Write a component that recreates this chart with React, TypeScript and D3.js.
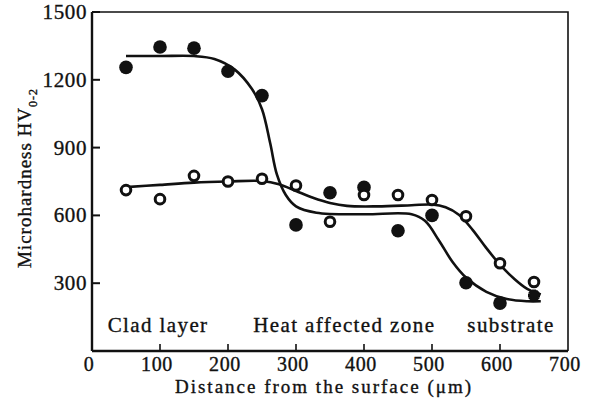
import React, { useEffect, useRef } from 'react';
import * as d3 from 'd3';

// measured points, distance (um) / hardness
const cladDist = [50, 100, 150, 200, 250, 300, 350, 400, 450, 500, 550, 600];
const cladHV = [1255, 1345, 1340, 1238, 1130, 558, 700, 724, 532, 600, 302, 212];

const openDist = [50, 100, 150, 200, 250, 300, 350, 400, 450, 500, 550, 600, 650];
const openHV = [712, 672, 775, 750, 762, 732, 572, 690, 690, 668, 596, 388, 305];

const starPoint = [650, 246];

// fitted curves
const curveADist = [50, 100, 150, 180, 210, 235, 250, 262, 272, 285, 300, 330, 400, 470, 490, 510, 530, 550, 580, 610, 640, 660];
const curveAHV = [1305, 1305, 1305, 1292, 1245, 1160, 1070, 920, 780, 690, 640, 612, 605, 605, 575, 490, 395, 325, 262, 230, 220, 220];

const curveBDist = [50, 100, 150, 200, 250, 275, 300, 325, 350, 375, 420, 470, 500, 520, 540, 560, 580, 600, 620, 640, 660];
const curveBHV = [725, 735, 745, 750, 752, 738, 708, 678, 655, 642, 640, 645, 648, 636, 602, 535, 455, 382, 322, 275, 250];

const xTicks = [0, 100, 200, 300, 400, 500, 600, 700];
const yTicks = [300, 600, 900, 1200, 1500];
const zoneLabels = ['Clad layer', 'Heat affected zone', 'substrate'];
const zoneAt = [23, 237, 552];

const App = () => {
    const ref = useRef<SVGSVGElement>(null);

    useEffect(() => {
        const svg = d3.select(ref.current);
        svg.selectAll('*').remove();

        const x = d3.scaleLinear().domain([0, 700]).range([92, 568]);
        const y = d3.scaleLinear().domain([0, 1500]).range([351, 12]);
        const font = "'Liberation Serif', 'DejaVu Serif', serif";
        const ink = '#111';

        const styleText = (t: any, size = 21, spacing = 1.6) =>
            t.style('font-family', font).style('font-size', size + 'px')
                .style('letter-spacing', spacing + 'px')
                .attr('fill', ink).attr('stroke', ink).attr('stroke-width', 0.35);

        // frame
        svg.append('path')
            .attr('d', `M${x(0)},${y(1500)}H${x(700)}V${y(0)}`)
            .attr('fill', 'none').attr('stroke', ink).attr('stroke-width', 1.6);
        svg.append('line')
            .attr('x1', x(0)).attr('x2', x(0)).attr('y1', y(1500)).attr('y2', y(0))
            .attr('stroke', ink).attr('stroke-width', 2.4);
        svg.append('line')
            .attr('x1', x(0)).attr('x2', x(700)).attr('y1', y(0)).attr('y2', y(0))
            .attr('stroke', ink).attr('stroke-width', 2.4);

        // y ticks (inward)
        svg.selectAll('.ytick').data(yTicks).enter().append('line')
            .attr('x1', x(0)).attr('x2', x(0) + 8)
            .attr('y1', d => y(d)).attr('y2', d => y(d))
            .attr('stroke', ink).attr('stroke-width', 2);
        styleText(svg.selectAll('.ylab').data(yTicks).enter().append('text')
            .attr('x', x(0) - 5).attr('y', d => y(d) + 7)
            .attr('text-anchor', 'end'), 21, 0.6)
            .text((d: number) => d);

        // x ticks (inward)
        svg.selectAll('.xtick').data(xTicks.slice(1, -1)).enter().append('line')
            .attr('x1', d => x(d)).attr('x2', d => x(d))
            .attr('y1', y(0)).attr('y2', y(0) - 7)
            .attr('stroke', ink).attr('stroke-width', 1.6);
        styleText(svg.selectAll('.xlab').data(xTicks).enter().append('text')
            .attr('x', d => x(d) - 3).attr('y', 371)
            .attr('text-anchor', 'middle'), 20, 0.6)
            .text((d: number) => d);

        // axis titles
        styleText(svg.append('text')
            .attr('x', 324).attr('y', 393)
            .attr('text-anchor', 'middle'), 19, 2)
            .text('Distance from the surface (μm)');

        const yt = styleText(svg.append('text')
            .attr('transform', 'translate(31,178) rotate(-90)')
            .attr('text-anchor', 'middle'), 19, 1.0);
        yt.append('tspan').text('Microhardness HV');
        yt.append('tspan').attr('dy', 6).style('font-size', '12px').text('0-2');

        // zone labels
        styleText(svg.selectAll('.zone').data(zoneLabels).enter().append('text')
            .attr('x', (d, i) => x(zoneAt[i]))
            .attr('y', 332)
            .attr('text-anchor', 'start'), 21, 1.4)
            .text((d: string) => d);

        // curves
        const line = d3.line<number[]>()
            .x(d => x(d[0]))
            .y(d => y(d[1]))
            .curve(d3.curveCatmullRom.alpha(0.5));
        const curveA = curveADist.map((d, i) => [d, curveAHV[i]]);
        const curveB = curveBDist.map((d, i) => [d, curveBHV[i]]);
        [curveA, curveB].forEach(c => {
            svg.append('path')
                .attr('d', line(c))
                .attr('fill', 'none').attr('stroke', ink).attr('stroke-width', 2.6);
        });

        // filled points
        svg.selectAll('.filled').data(cladDist).enter().append('circle')
            .attr('cx', d => x(d)).attr('cy', (d, i) => y(cladHV[i]))
            .attr('r', 6.8).attr('fill', ink);

        // open points
        svg.selectAll('.open').data(openDist).enter().append('circle')
            .attr('cx', d => x(d)).attr('cy', (d, i) => y(openHV[i]))
            .attr('r', 4.8).attr('fill', '#fff')
            .attr('stroke', ink).attr('stroke-width', 3);

        // star marker
        const star = d3.symbol().type(d3.symbolCross).size(80)();
        svg.append('path')
            .attr('d', star)
            .attr('transform', `translate(${x(starPoint[0])},${y(starPoint[1])}) rotate(45)`)
            .attr('fill', ink);
        svg.append('path')
            .attr('d', star)
            .attr('transform', `translate(${x(starPoint[0])},${y(starPoint[1])})`)
            .attr('fill', ink);
    }, []);

    return (
        <svg ref={ref} width={593} height={400}
            style={{ position: 'absolute', left: 0, top: 0, background: '#fff' }} />
    );
};

export default App;
